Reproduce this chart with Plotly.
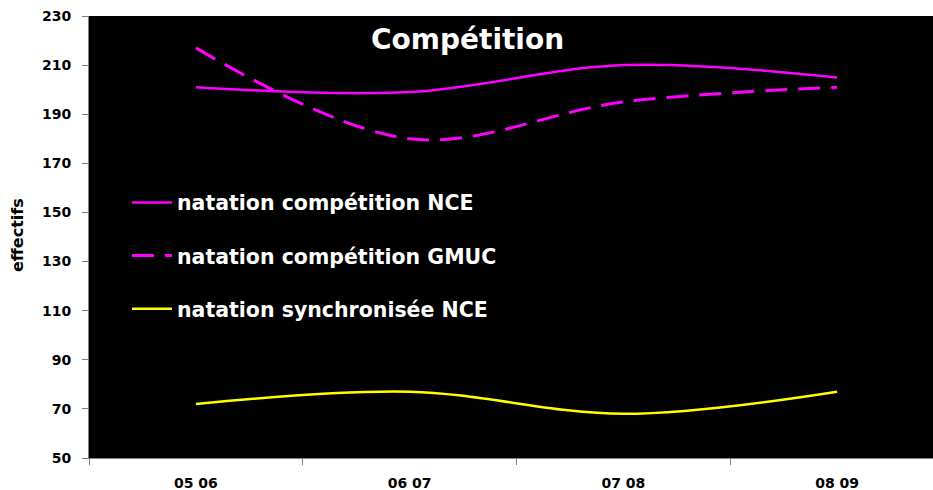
import plotly.graph_objects as go

categories = ["05 06", "06 07", "07 08", "08 09"]
nce = [201, 199, 210, 205]
gmuc = [217, 180, 195, 201]
synchro = [72, 77, 68, 77]
names = ["natation compétition NCE", "natation compétition GMUC", "natation synchronisée NCE"]
y_ticks = list(range(50, 231, 20))

FONT = "DejaVu Sans"
fig = go.Figure()
fig.add_trace(go.Scatter(x=categories, y=nce, name=names[0], mode="lines", legendgroup="a",
                         line=dict(color="#FF00FF", width=2.5, shape="spline", smoothing=1)))
fig.add_trace(go.Scatter(x=categories, y=gmuc, name=names[1], mode="lines", legendgroup="b",
                         line=dict(color="#FF00FF", width=3, shape="spline", smoothing=1, dash="22px,11px")))
fig.add_trace(go.Scatter(x=categories, y=synchro, name=names[2], mode="lines", legendgroup="c",
                         line=dict(color="#FFFF00", width=2.5, shape="spline", smoothing=1)))

fig.update_layout(
    width=933, height=490,
    margin=dict(l=89, r=0, t=16, b=32),
    paper_bgcolor="white", plot_bgcolor="black",
    font=dict(family=FONT, color="black", size=14, weight="bold"),
    showlegend=True,
    legend=dict(x=0.045, y=0.623, xanchor="left", yanchor="top", bgcolor="rgba(0,0,0,0)",
                font=dict(family=FONT, size=20.5, color="white", weight="bold"),
                tracegroupgap=23.5, itemwidth=40),
    annotations=[
        dict(text="Compétition", x=(467 - 89) / 844, y=(458.3 - 39) / 442.6,
             xref="paper", yref="paper", xanchor="center", yanchor="middle", showarrow=False,
             font=dict(family=FONT, size=28, color="white", weight="bold")),
        dict(text="effectifs", x=(17 - 89) / 844, y=(458.3 - 235) / 442.6, textangle=-90,
             xref="paper", yref="paper", xanchor="center", yanchor="middle", showarrow=False,
             font=dict(family=FONT, size=16, color="black", weight="bold")),
    ],
)

fig.update_xaxes(type="category", range=[-0.5, 3.4485], tickson="boundaries",
                 ticks="outside", ticklen=6, tickcolor="#808080", showgrid=False,
                 showline=True, linecolor="#808080", ticklabelstandoff=12,
                 tickfont=dict(family=FONT, size=14, weight="bold"))
fig.update_yaxes(range=[50, 230], tickvals=y_ticks, ticks="outside", ticklen=6, tickcolor="#808080",
                 showgrid=False, zeroline=False, showline=True, linecolor="#808080",
                 ticklabelstandoff=8,
                 tickfont=dict(family=FONT, size=14, weight="bold"))

fig.write_html("out.html", config={"displayModeBar": False},
               post_script="document.body.style.margin='0';document.body.style.overflow='hidden';")
